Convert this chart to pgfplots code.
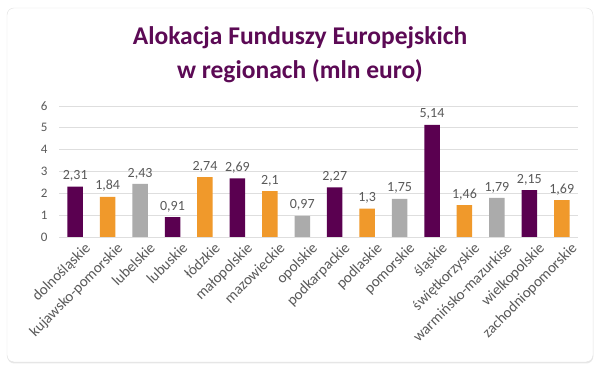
\documentclass[border=0pt]{standalone}
\usepackage{pgfplots}
\pgfplotsset{compat=1.18}
\usepackage{fontspec}
\setmainfont{Carlito}
\usetikzlibrary{shadows}
\definecolor{cpur}{HTML}{5A0050}
\definecolor{corg}{HTML}{F0992B}
\definecolor{cgry}{HTML}{ABABAB}
\definecolor{ctitle}{HTML}{5C0A55}
\definecolor{ctxt}{HTML}{595959}
\begin{document}
\begin{tikzpicture}
\path[use as bounding box] (0pt,0pt) rectangle (600pt,371pt);
\fill[white] (0pt,0pt) rectangle (600pt,371pt);
\draw[rounded corners=7pt, draw=black!12, fill=white, drop shadow={shadow xshift=0.3pt, shadow yshift=-1.5pt, opacity=0.18}] (7pt,9pt) rectangle (593pt,363pt);
\node[font=\bfseries\fontsize{25.5}{34}\selectfont, text=ctitle, align=center] at (300pt,316pt) {Alokacja Funduszy Europejskich\\w regionach (mln euro)};
\begin{axis}[
  at={(59pt,134pt)}, anchor=south west,
  scale only axis, width=519pt, height=131pt,
  xmin=-0.5, xmax=15.5, ymin=0, ymax=6,
  ytick={0,1,...,6},
  xtick={0,1,...,15},
  xticklabels={dolnośląskie,kujawsko-pomorskie,lubelskie,lubuskie,łódzkie,małopolskie,mazowieckie,opolskie,podkarpackie,podlaskie,pomorskie,śląskie,świętkorzyskie,warmińsko-mazurkise,wielkopolskie,zachodniopomorskie},
  x tick label style={rotate=45, anchor=north east, font=\fontsize{15}{17}\selectfont, text=ctxt, inner sep=0pt, xshift=3pt, yshift=-9pt},
  y tick label style={font=\fontsize{13}{15}\selectfont, text=ctxt, xshift=-8pt},
  /pgf/number format/assume math mode=true,
  /pgf/number format/use comma,
  major tick length=0pt,
  axis line style={draw=none},
  ymajorgrids, grid style={draw=black!13, line width=0.8pt},
  ybar, bar width=15.5pt,
  nodes near coords,
  every node near coord/.append style={font=\fontsize{14}{16}\selectfont, text=ctxt, yshift=1.5pt},
  clip=false,
]
\addplot[fill=cpur, draw=none, bar shift=0pt] coordinates {(0,2.31) (3,0.91) (5,2.69) (8,2.27) (11,5.14) (14,2.15)};
\addplot[fill=corg, draw=none, bar shift=0pt] coordinates {(1,1.84) (4,2.74) (6,2.1) (9,1.3) (12,1.46) (15,1.69)};
\addplot[fill=cgry, draw=none, bar shift=0pt] coordinates {(2,2.43) (7,0.97) (10,1.75) (13,1.79)};
\end{axis}
\end{tikzpicture}
\end{document}
